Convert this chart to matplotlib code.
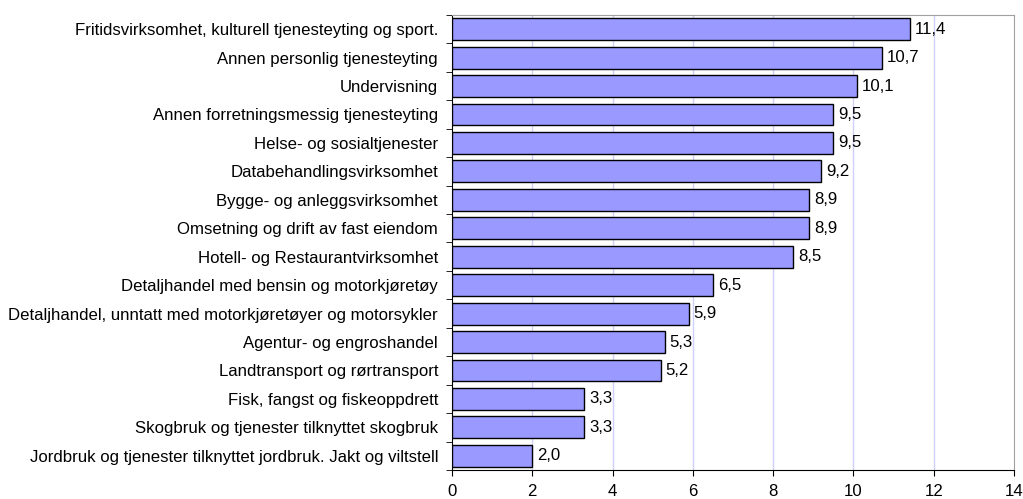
import matplotlib
matplotlib.use("Agg")
import matplotlib.pyplot as plt
import numpy as np

categories = [
    "Fritidsvirksomhet, kulturell tjenesteyting og sport.",
    "Annen personlig tjenesteyting",
    "Undervisning",
    "Annen forretningsmessig tjenesteyting",
    "Helse- og sosialtjenester",
    "Databehandlingsvirksomhet",
    "Bygge- og anleggsvirksomhet",
    "Omsetning og drift av fast eiendom",
    "Hotell- og Restaurantvirksomhet",
    "Detaljhandel med bensin og motorkjøretøy",
    "Detaljhandel, unntatt med motorkjøretøyer og motorsykler",
    "Agentur- og engroshandel",
    "Landtransport og rørtransport",
    "Fisk, fangst og fiskeoppdrett",
    "Skogbruk og tjenester tilknyttet skogbruk",
    "Jordbruk og tjenester tilknyttet jordbruk. Jakt og viltstell",
]
values = [11.4, 10.7, 10.1, 9.5, 9.5, 9.2, 8.9, 8.9, 8.5, 6.5, 5.9, 5.3, 5.2, 3.3, 3.3, 2.0]
xticks = [0, 2, 4, 6, 8, 10, 12, 14]

plt.rcParams['font.family'] = ['Liberation Sans', 'DejaVu Sans']
FS = 12.1

fig = plt.figure(figsize=(10.23, 4.99), dpi=100)
ax = fig.add_axes([0.4418, 0.0581, 0.5494, 0.912])

n = len(categories)
y = np.arange(n)
ax.barh(y, values, height=0.77, color="#9999FF", edgecolor="black", linewidth=1.0, zorder=3)
for yi, v in zip(y, values):
    ax.text(v + 0.12, yi, f"{v:.1f}".replace(".", ","), va="center", ha="left", fontsize=FS, zorder=4)

ax.set_ylim(n - 0.5, -0.5)
ax.set_xlim(0, 14)
ax.set_xticks(xticks)
ax.set_xticklabels([str(t) for t in xticks], fontsize=FS)
ax.set_yticks(y)
ax.set_yticklabels(categories, fontsize=FS)
ax.tick_params(axis='y', which='major', length=0, pad=10)
ax.set_yticks(np.arange(-0.5, n, 1), minor=True)
ax.tick_params(axis='y', which='minor', length=4, direction='out', color='black')
ax.tick_params(axis='x', which='major', length=4, direction='out', color='black', pad=6)

for t in xticks[1:-1]:
    ax.axvline(t, color="#D0D0F8", linewidth=1.0, zorder=1)

ax.spines['left'].set_color('black')
ax.spines['bottom'].set_color('black')
ax.spines['top'].set_color('#A0A0A0')
ax.spines['right'].set_color('#A0A0A0')

fig.savefig("out.png", dpi=100)
